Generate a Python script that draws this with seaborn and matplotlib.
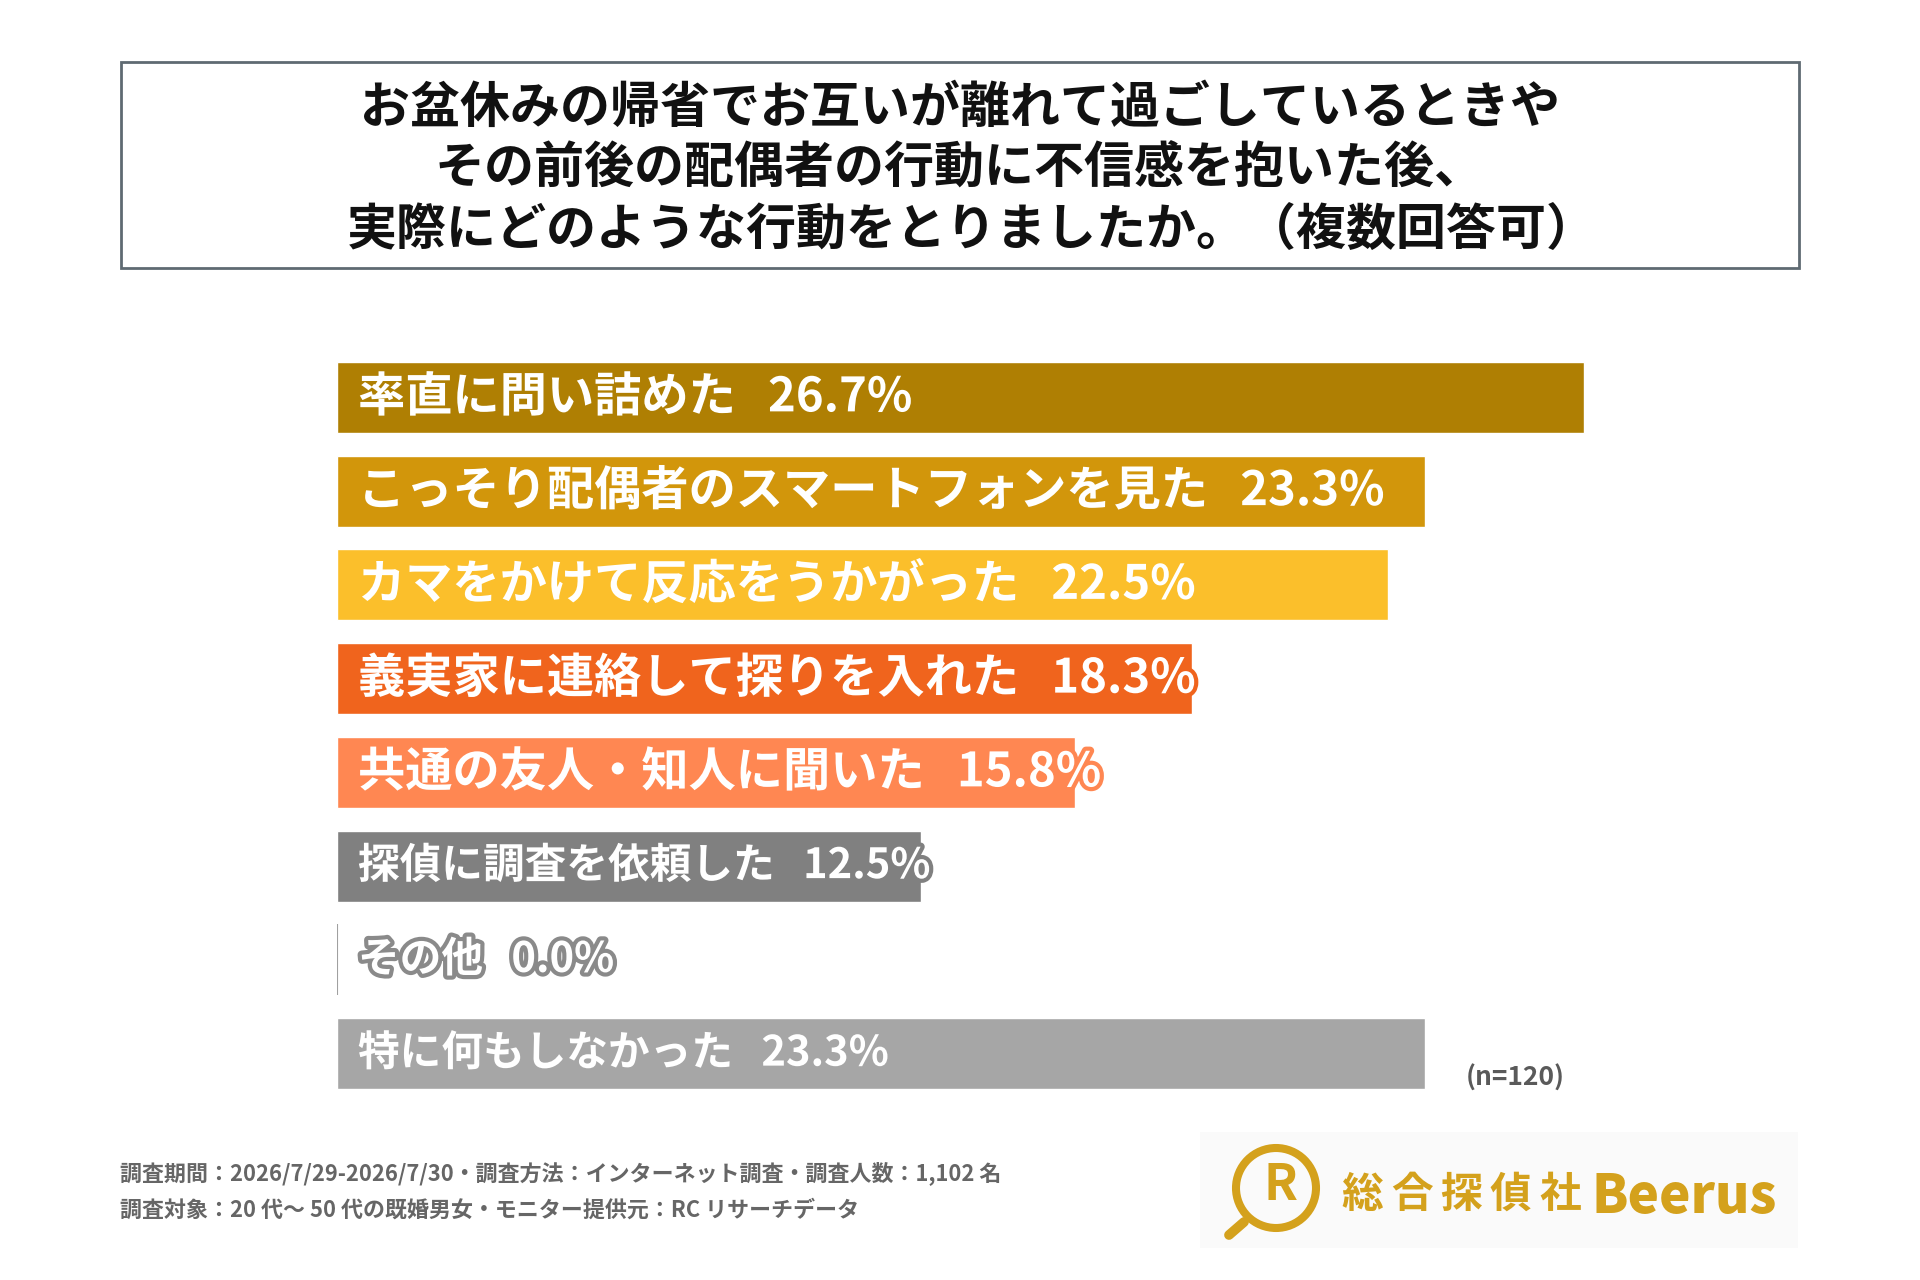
import matplotlib
matplotlib.use("Agg")
import matplotlib.pyplot as plt
import matplotlib.patheffects as pe
from matplotlib.patches import Rectangle, Circle
import seaborn as sns
import pandas as pd

# survey answers (multiple choice), n=120
labels = ["率直に問い詰めた", "こっそり配偶者のスマートフォンを見た", "カマをかけて反応をうかがった",
          "義実家に連絡して探りを入れた", "共通の友人・知人に聞いた", "探偵に調査を依頼した",
          "その他", "特に何もしなかった"]
values = [26.7, 23.3, 22.5, 18.3, 15.8, 12.5, 0.0, 23.3]
colors = ["#AF7F03", "#D2960B", "#FBBF2B", "#F0641D", "#FF8752", "#808080", "#8A8A8A", "#A6A6A6"]
label_sizes = [34, 34, 34, 34, 34, 30, 30, 30]

title_lines = ["お盆休みの帰省でお互いが離れて過ごしているときや",
               "その前後の配偶者の行動に不信感を抱いた後、",
               "実際にどのような行動をとりましたか。（複数回答可）"]
title_x = [960, 960, 972]
notes = ["調査期間：2026/7/29-2026/7/30・調査方法：インターネット調査・調査人数：1,102 名",
         "調査対象：20 代～ 50 代の既婚男女・モニター提供元：RC リサーチデータ"]
n_label = "(n=120)"

sns.set_theme(style="white")
plt.rcParams['font.family'] = ['Noto Sans CJK JP', 'DejaVu Sans']

df = pd.DataFrame({"label": labels, "value": values})

fig = plt.figure(figsize=(19.2, 12.8), dpi=100)
fig.patch.set_facecolor("white")

# overlay in pixel coords for the frame, notes and logo
bg = fig.add_axes([0, 0, 1, 1])
bg.set_xlim(0, 1920)
bg.set_ylim(1280, 0)
bg.axis("off")

bg.add_patch(Rectangle((121, 62), 1678, 206, fill=False, edgecolor="#5F6A72", linewidth=2))
for i, line in enumerate(title_lines):
    bg.text(title_x[i], 108 + i * 61, line, ha="center", va="center", fontsize=36,
            fontweight="bold", color="#111111")

for i, line in enumerate(notes):
    bg.text(120, 1173 + i * 37, line, ha="left", va="center", fontsize=15.8,
            fontweight="bold", color="#666666")

bg.text(1515, 1078, n_label, ha="center", va="center", fontsize=19,
        fontweight="bold", color="#5A5A5A")

# logo
gold = "#D4A11C"
bg.add_patch(Rectangle((1200, 1132), 598, 116, facecolor="#FAFAFA", edgecolor="none"))
bg.add_patch(Circle((1276, 1188), 40, fill=False, edgecolor=gold, linewidth=5.8))
bg.plot([1244, 1229], [1222, 1235], color=gold, linewidth=7, solid_capstyle="round")
bg.text(1280, 1185, "R", ha="center", va="center", fontsize=36, fontweight="bold",
        color=gold, style="italic")
for i, ch in enumerate("総合探偵社"):
    bg.text(1362 + i * 49.5, 1195, ch, ha="center", va="center", fontsize=30,
            fontweight="bold", color=gold)
bg.text(1592, 1213, "Beerus", ha="left", va="baseline", fontsize=38,
        fontweight="heavy", color=gold)

# bar chart
ax = fig.add_axes([337 / 1920, 1 - 1100.5 / 1280, 1401 / 1920, 750 / 1280])
sns.barplot(data=df, x="value", y="label", hue="label", palette=colors, orient="h",
            legend=False, width=0.755, saturation=1, ax=ax)
ax.set_xlim(0, 30)
ax.set_ylim(7.5, -0.5)
ax.axis("off")

# zero-width bar shows as a thin line
for p in ax.patches:
    if p.get_width() == 0:
        p.set_edgecolor("#A0A0A0")
        p.set_linewidth(1.5)

for i, (lab, val) in enumerate(zip(labels, values)):
    ax.text(0.45, i, f"{lab}   {val:.1f}%", ha="left", va="center", fontsize=label_sizes[i],
            fontweight="bold", color="white",
            path_effects=[pe.withStroke(linewidth=6, foreground=colors[i])])

fig.savefig("out.png", dpi=100, facecolor="white")
